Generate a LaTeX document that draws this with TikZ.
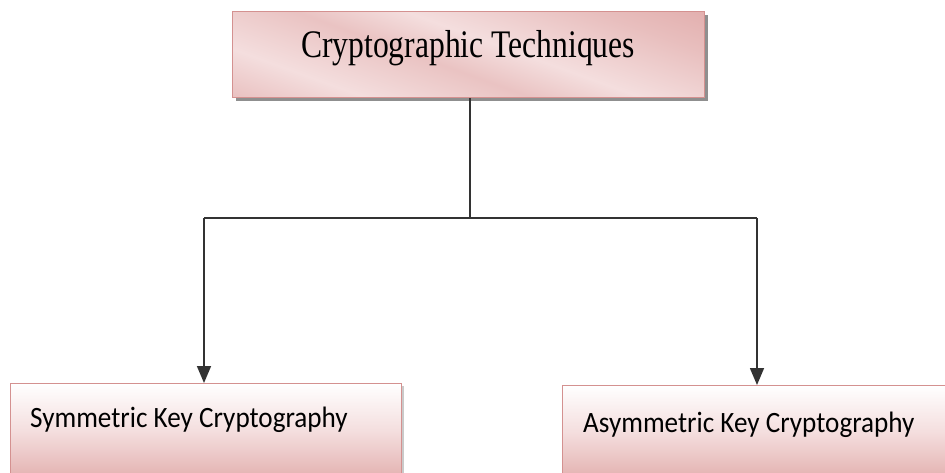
\documentclass[tikz,border=0pt]{standalone}
\usepackage{graphicx}
\usepackage{fontspec}
\setmainfont{Liberation Serif}
\newfontfamily\calib{Carlito}
\usetikzlibrary{arrows.meta,shadows}
\definecolor{pdark}{HTML}{D99594}
\definecolor{plight}{HTML}{F4DEDE}
\definecolor{pmid}{HTML}{E3B1B0}
\definecolor{pedge}{HTML}{D49190}
\pgfdeclarehorizontalshading{topshade}{100bp}{color(0bp)=(pdark); color(30bp)=(plight); color(45bp)=(pmid!60!plight); color(55bp)=(plight); color(72bp)=(pmid!70!plight); color(100bp)=(pdark)}
\tikzset{
  topbox/.style={draw=pedge, line width=1pt, shading=topshade, shading angle=70,
    minimum width=472pt, minimum height=86pt, inner sep=0pt,
    drop shadow={shadow xshift=3pt, shadow yshift=-3pt, fill=black!55, opacity=0.8}},
  botbox/.style={draw=pedge, line width=1pt, top color=white, bottom color=pmid,
    middle color=plight, inner sep=0pt,
    drop shadow={shadow xshift=2pt, shadow yshift=-2pt, fill=black!35, opacity=0.6}},
  bottext/.style={font=\calib\fontsize{29.5}{32}\selectfont, inner sep=0pt, text=black},
  conn/.style={line width=1.6pt, draw=black!80},
  arr/.style={conn, -{Triangle[width=14pt,length=17pt]}}
}
\begin{document}
\begin{tikzpicture}[x=1pt,y=-1pt]
\useasboundingbox (0,0) rectangle (945,472);
\node[topbox, anchor=north west] (top) at (232,11) {};
\node[inner sep=0pt, font=\fontsize{39}{42}\selectfont, text=black, anchor=base] (toptext) at (468,57) {\scalebox{0.81}[1]{Cryptographic Techniques}};
\node[botbox, minimum width=391pt, minimum height=95pt, anchor=north west] (sym) at (10,383) {};
\node[botbox, minimum width=390pt, minimum height=93pt, anchor=north west] (asym) at (562,385) {};
\node[bottext, anchor=base west] (symt) at (30,427) {\scalebox{0.92}[1]{Symmetric Key Cryptography}};
\node[bottext, anchor=base west] (asymt) at (583,432) {\scalebox{0.92}[1]{Asymmetric Key Cryptography}};
\coordinate (mid) at (470,218);
\coordinate (lc) at (204,218);
\coordinate (rc) at (757,218);
\draw[conn] (top.south -| mid) -- (mid);
\draw[conn] (lc) -- (rc);
\draw[arr] (lc) -- (lc |- sym.north);
\draw[arr] (rc) -- (rc |- asym.north);
\end{tikzpicture}
\end{document}
